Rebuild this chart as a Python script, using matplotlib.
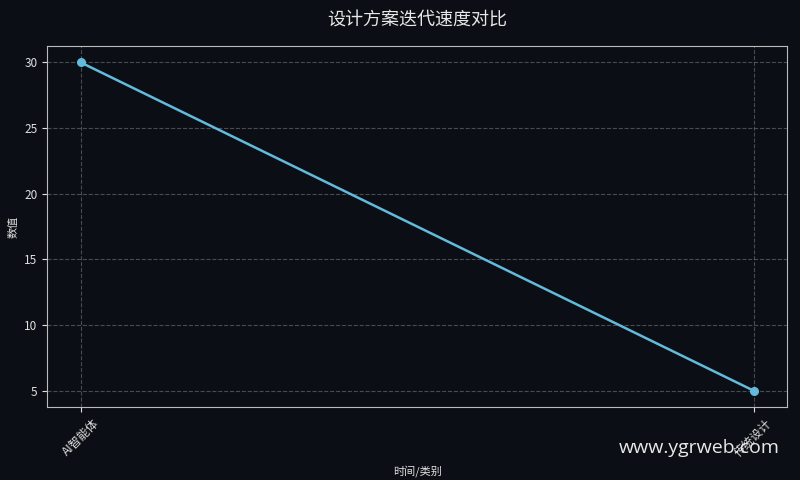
import matplotlib
matplotlib.use('Agg')
import matplotlib.pyplot as plt

plt.rcParams['font.family'] = ['Noto Sans CJK SC', 'DejaVu Sans']
plt.rcParams['axes.unicode_minus'] = False

# 数据
categories = ['AI智能体', '传统设计']
values = [30, 5]

bg = '#0b0e14'
fig, ax = plt.subplots(figsize=(8, 4.8), dpi=100)
fig.patch.set_facecolor(bg)
ax.set_facecolor(bg)

ax.plot(categories, values, color='#62bbdb', linewidth=1.8, marker='o', markersize=5.5)

ax.set_title('设计方案迭代速度对比', color='#e8e8e8', fontsize=13, pad=15)
ax.set_xlabel('时间/类别', color='#e0e0e0', fontsize=8, labelpad=4)
ax.set_ylabel('数值', color='#e0e0e0', fontsize=8)
ax.tick_params(colors='#e0e0e0', labelsize=8.5)
plt.setp(ax.get_xticklabels(), rotation=45)
for s in ax.spines.values():
    s.set_color('#bbbbbb')
ax.grid(True, linestyle='--', color='#888888', alpha=0.5, linewidth=0.8)

fig.text(0.975, 0.067, 'www.ygrweb.com', color='#e8e8e8', fontsize=14,
         ha='right', va='center', family=['Open Sans', 'DejaVu Sans'])

plt.subplots_adjust(left=0.059, right=0.984, top=0.904, bottom=0.152)
plt.savefig('out.png', facecolor=bg)
